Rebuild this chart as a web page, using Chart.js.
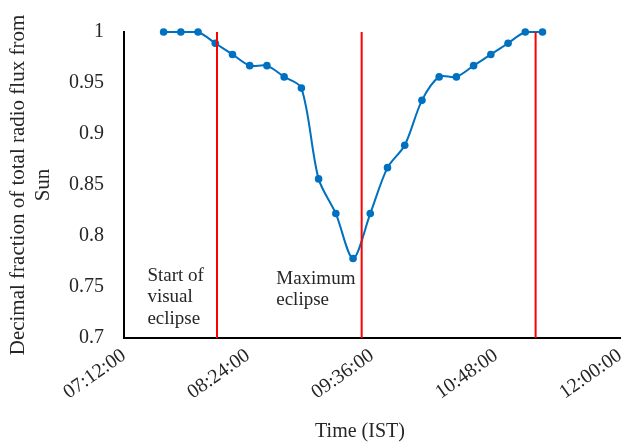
<!DOCTYPE html>
<html>
<head>
<meta charset="utf-8">
<script src="https://cdn.jsdelivr.net/npm/chart.js@4.4.1/dist/chart.umd.min.js"></script>
<style>
  html, body { margin: 0; padding: 0; background: #fff; }
  #wrap { width: 624px; height: 445px; }
</style>
</head>
<body>
<div id="wrap"><canvas id="fluxChart" width="624" height="445"></canvas></div>
<script>
// --- DATA ---
const times = ['07:35', '07:45', '07:55', '08:05', '08:15', '08:25', '08:35', '08:45',
  '08:55', '09:05', '09:15', '09:25', '09:35', '09:45', '09:55', '10:05', '10:15',
  '10:25', '10:35', '10:45', '10:55', '11:05', '11:15'];
const flux = [1.000, 1.000, 1.000, 0.989, 0.978, 0.967, 0.967, 0.956,
  0.945, 0.856, 0.822, 0.778, 0.822, 0.867, 0.889, 0.933, 0.956,
  0.956, 0.967, 0.978, 0.989, 1.000, 1.000];

// eclipse markers (start, maximum, end)
const markerTimes = ['08:06', '09:30', '11:11'];
const markerRange = [0.7, 1];

// axis ticks
const xMin = '07:12', xMax = '12:00', xStep = 72;
const yMin = 0.7, yMax = 1, yStep = 0.05;

const notes = [
  { lines: ['Start of', 'visual', 'eclipse'], at: '07:25:36', y: 0.756 },
  { lines: ['Maximum', 'eclipse'], at: '08:40:24', y: 0.753 }
];

const FONT = "'Liberation Serif', 'Times New Roman', serif";

function toMin(t) {
  const p = t.split(':').map(Number);
  return p[0] * 60 + p[1] + (p[2] || 0) / 60;
}
function fmtTime(m) {
  const h = Math.floor(m / 60), mm = Math.round(m % 60);
  return String(h).padStart(2, '0') + ':' + String(mm).padStart(2, '0') + ':00';
}

// --- DATASETS ---
const markerSets = markerTimes.map(t => ({
  data: markerRange.map(v => ({ x: toMin(t), y: v })),
  borderColor: '#ff0000',
  borderWidth: 2,
  pointRadius: 0,
  tension: 0
}));

const fluxSet = {
  data: times.map((t, i) => ({ x: toMin(t), y: flux[i] })),
  borderColor: '#0070c0',
  backgroundColor: '#0070c0',
  borderWidth: 2,
  pointRadius: 3.8,
  pointBackgroundColor: '#0070c0',
  pointBorderWidth: 0,
  tension: 0.3,
  clip: false
};

// texto das anotações + título do eixo x (um pouco à esquerda do centro, como no original)
const notesPlugin = {
  id: 'notes',
  afterDatasetsDraw(chart) {
    const { ctx, chartArea, scales: { x, y } } = chart;
    ctx.save();
    ctx.font = '19px ' + FONT;
    ctx.fillStyle = '#262626';
    ctx.textAlign = 'left';
    ctx.textBaseline = 'alphabetic';
    notes.forEach(n => {
      const px = x.getPixelForValue(toMin(n.at));
      const py = y.getPixelForValue(n.y);
      n.lines.forEach((l, i) => ctx.fillText(l, px, py + i * 21.5));
    });

    ctx.font = '20px ' + FONT;
    ctx.textAlign = 'center';
    ctx.textBaseline = 'middle';
    ctx.fillText('Time (IST)', (chartArea.left + chartArea.right) / 2 - 12, chart.height - 13);
    ctx.restore();
  }
};

new Chart(document.getElementById('fluxChart'), {
  type: 'line',
  data: { datasets: [...markerSets, fluxSet] },
  options: {
    responsive: false,
    animation: false,
    devicePixelRatio: 1,
    layout: { padding: { top: 28, right: 2, left: 0, bottom: 0 } },
    plugins: { legend: { display: false }, tooltip: { enabled: false } },
    scales: {
      x: {
        type: 'linear',
        min: toMin(xMin),
        max: toMin(xMax),
        afterFit: s => { s.height = 107; s.paddingLeft = 0; s.paddingRight = 0; },
        grid: { display: false, drawTicks: false },
        border: { display: true, color: '#000', width: 2 },
        ticks: {
          stepSize: xStep,
          minRotation: 35,
          maxRotation: 35,
          padding: 6,
          color: '#262626',
          font: { family: FONT, size: 20 },
          callback: v => fmtTime(v)
        },
        title: { display: false }
      },
      y: {
        min: yMin,
        max: yMax,
        afterFit: s => { s.width = 124; },
        grid: { display: false, drawTicks: false },
        border: { display: true, color: '#000', width: 2 },
        ticks: {
          stepSize: yStep,
          padding: 20,
          color: '#262626',
          font: { family: FONT, size: 20 },
          callback: v => String(Number(v.toFixed(2)))
        },
        title: {
          display: true,
          text: ['Decimal fraction of total radio flux from', 'Sun'],
          color: '#262626',
          font: { family: FONT, size: 21, lineHeight: 1.2 },
          padding: { top: 6, bottom: 0 }
        }
      }
    }
  },
  plugins: [notesPlugin]
});
</script>
</body>
</html>
